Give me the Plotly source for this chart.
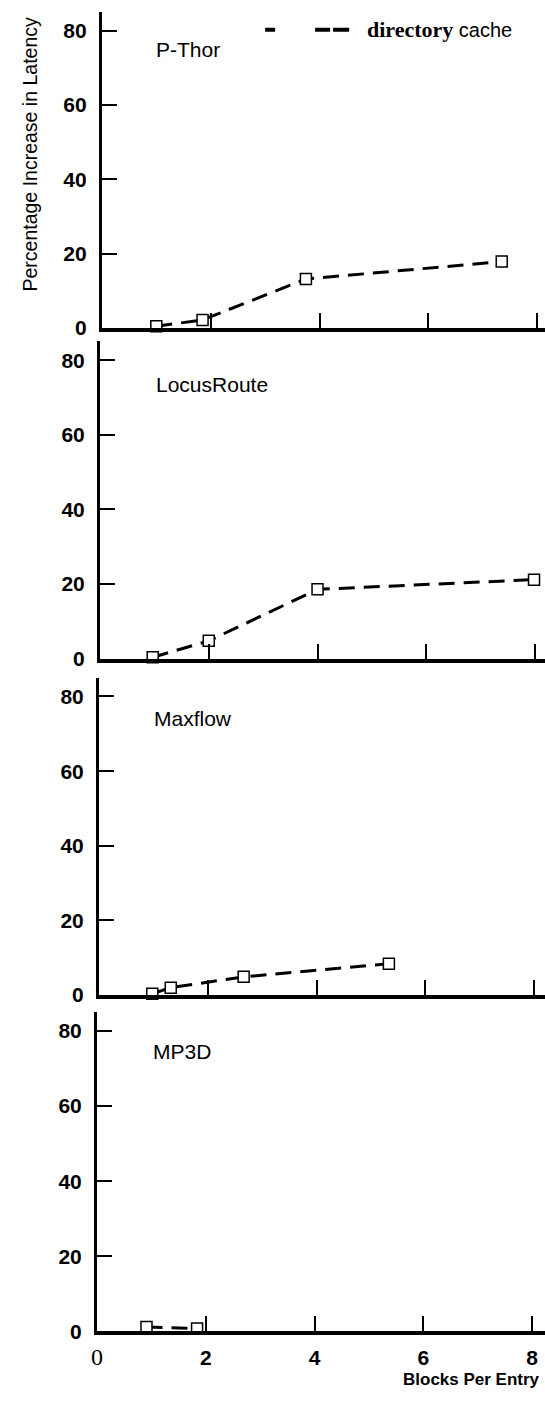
import plotly.graph_objects as go

# ---- data ----
panel_names = ["P-Thor", "LocusRoute", "Maxflow", "MP3D"]
pthor_x = [1.0, 1.85, 3.75, 7.35]
pthor_y = [0.5, 2.2, 13.2, 17.9]
locus_x = [0.97, 2.0, 4.0, 7.98]
locus_y = [0.4, 4.8, 18.6, 21.2]
maxflow_x = [0.98, 1.32, 2.66, 5.33]
maxflow_y = [0.4, 2.0, 4.9, 8.4]
mp3d_x = [0.91, 1.84]
mp3d_y = [1.2, 0.8]
series = [(pthor_x, pthor_y), (locus_x, locus_y), (maxflow_x, maxflow_y), (mp3d_x, mp3d_y)]

y_ticks = [0, 20, 40, 60, 80]
x_ticks = [0, 2, 4, 6, 8]
x_ticktext = ['<span style="font-family:Liberation Serif;font-weight:normal;font-size:24px">0</span>', "2", "4", "6", "8"]

legend_label = "directory cache"
y_title = "Percentage Increase in Latency"
x_title = "Blocks Per Entry"

# ---- layout geometry (pixels) ----
W, H = 545, 1402
zero_px = [330.7, 664, 1003, 1342]
eighty_px = [31, 363, 702, 1039]
left_px = [97, 95, 94, 92]
x_scale = 55.0
y_max = 85

fig = go.Figure()
layout = dict(
    width=W, height=H, margin=dict(l=0, r=0, t=0, b=0),
    paper_bgcolor="white", plot_bgcolor="white", showlegend=False,
)

for i, (xs, ys) in enumerate(series):
    k = "" if i == 0 else str(i + 1)
    fig.add_trace(go.Scatter(
        x=xs, y=ys, xaxis="x" + k, yaxis="y" + k,
        mode="lines+markers", cliponaxis=False,
        line=dict(color="black", width=3, dash="16px,9px"),
        marker=dict(symbol="square", size=11, color="white",
                    line=dict(color="black", width=1.5)),
        name=legend_label,
    ))
    scale = (zero_px[i] - eighty_px[i]) / 80.0
    top_px = zero_px[i] - y_max * scale
    ydom = [1 - zero_px[i] / H, 1 - top_px / H]
    xdom = [left_px[i] / W, 1]
    last = (i == 3)
    layout["xaxis" + k] = dict(
        domain=xdom, anchor="y" + k, range=[0, (W - left_px[i]) / x_scale],
        showgrid=False, zeroline=False, showline=True, linecolor="black", linewidth=4,
        ticks="inside", ticklen=15, tickwidth=1.5 if last else 2, tickcolor="black",
        tickvals=x_ticks[1:] if not last else x_ticks,
        ticktext=x_ticktext if last else None,
        showticklabels=last,
        tickfont=dict(family="Liberation Sans", size=21, color="black", weight="bold"),
        ticklabelstandoff=4,
    )
    layout["yaxis" + k] = dict(
        domain=ydom, anchor="x" + k, range=[0, y_max],
        showgrid=False, zeroline=False, showline=True, linecolor="black", linewidth=3,
        ticks="inside", ticklen=15, tickwidth=1.5, tickcolor="black",
        tickvals=y_ticks,
        tickfont=dict(family="Liberation Sans", size=21, color="black", weight="bold"),
        ticklabelstandoff=8,
    )

fig.update_layout(**layout)

# panel names
name_px = [(150, 50), (150, 388), (148, 724), (147, 1060)]
for name, (px, py) in zip(panel_names, name_px):
    fig.add_annotation(x=px / W, y=1 - py / H, xref="paper", yref="paper",
                       text=name, showarrow=False, xanchor="left", yanchor="middle",
                       font=dict(family="Liberation Sans", size=21, color="black"))

# y title
fig.add_annotation(x=24 / W, y=1 - 155 / H, xref="paper", yref="paper",
                   text=y_title, textangle=-90, showarrow=False,
                   xanchor="center", yanchor="middle",
                   font=dict(family="Liberation Sans", size=19.5, color="black"))
# x title
fig.add_annotation(x=542 / W, y=1 - 1390 / H, xref="paper", yref="paper",
                   text=x_title, showarrow=False, xanchor="right", yanchor="middle",
                   font=dict(family="Liberation Sans", size=17, color="black", weight="bold"))

# legend key
fig.add_shape(type="line", xref="paper", yref="paper",
              x0=262 / W, x1=347 / W, y0=1 - 30 / H, y1=1 - 30 / H,
              line=dict(color="black", width=4, dash="10px,40px,15px,3px,17px"))
fig.add_annotation(x=363 / W, y=1 - 30 / H, xref="paper", yref="paper",
                   text='<span style="font-family:Liberation Serif;font-weight:bold;font-size:22px">directory</span> '
                        '<span style="font-family:Liberation Sans;font-size:20px">cache</span>',
                   showarrow=False, xanchor="left", yanchor="middle",
                   font=dict(family="Liberation Serif", size=22, color="black"))

fig.write_html("out.html")
